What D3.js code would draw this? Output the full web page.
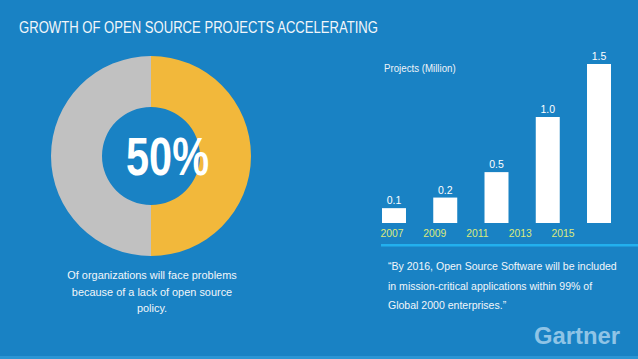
<!DOCTYPE html>
<html>
<head>
<meta charset="utf-8">
<script src="https://cdn.jsdelivr.net/npm/d3@7"></script>
<style>
  html, body { margin: 0; padding: 0; background: #1982c4; }
  svg { display: block; }
  text { font-family: "Liberation Sans Narrow", "Arial Narrow", "Liberation Sans", sans-serif; }
</style>
</head>
<body>
<div id="chart"></div>
<script>
const width = 638, height = 359;

// data
const title = "GROWTH OF OPEN SOURCE PROJECTS ACCELERATING";
const shareLabels = ["Will face problems", "Others"];
const shareValues = [50, 50];
const shareText = "50%";
const captionLines = ["Of organizations will face problems", "because of a lack of open source", "policy."];
const years = ["2007", "2009", "2011", "2013", "2015"];
const barLabels = ["0.1", "0.2", "0.5", "1.0", "1.5"];
const barValues = [0.14, 0.24, 0.48, 1.0, 1.5];
const quoteLines = ["\u201CBy 2016, Open Source Software will be included",
                    "in mission-critical applications within 99% of",
                    "Global 2000 enterprises.\u201D"];

const svg = d3.select("#chart").append("svg")
    .attr("width", width)
    .attr("height", height);

// squeeze text horizontally, the font here is wider than the original narrow one
function condense(sel, k) {
    sel.each(function() {
        const w = this.getComputedTextLength();
        d3.select(this).attr("textLength", w * k).attr("lengthAdjust", "spacingAndGlyphs");
    });
}

svg.append("rect")
    .attr("width", width).attr("height", height)
    .attr("fill", "#1982c4");
// thin lighter strip at the bottom edge
svg.append("rect")
    .attr("y", 356).attr("width", width).attr("height", 3)
    .attr("fill", "#2b95d4");

svg.append("text")
    .attr("x", 19).attr("y", 33)
    .attr("fill", "#f2f6fa")
    .attr("font-size", 17)
    .attr("textLength", 359)
    .attr("lengthAdjust", "spacingAndGlyphs")
    .text(title);

// donut
const pie = d3.pie().sort(null).value(d => d);
const arc = d3.arc().innerRadius(49).outerRadius(100);
const shareColor = d3.scaleOrdinal().domain(d3.range(shareValues.length)).range(["#f2b83b", "#c1c1c1"]);

const donut = svg.append("g").attr("transform", "translate(151,156)");
donut.selectAll("path")
    .data(pie(shareValues))
    .enter().append("path")
    .attr("d", arc)
    .attr("fill", (d, i) => shareColor(i));

svg.append("text")
    .attr("x", 167.5).attr("y", 175)
    .attr("text-anchor", "middle")
    .attr("fill", "#ffffff")
    .attr("font-size", 53)
    .attr("font-weight", "bold")
    .attr("textLength", 83)
    .attr("lengthAdjust", "spacingAndGlyphs")
    .text(shareText);

svg.append("g").selectAll("text")
    .data(captionLines)
    .enter().append("text")
    .attr("x", 152)
    .attr("y", (d, i) => 279 + i * 16.5)
    .attr("text-anchor", "middle")
    .attr("fill", "#f2f6fa")
    .attr("font-size", 11.5)
    .text(d => d)
    .call(condense, 0.95);

// bar chart
const x = d3.scaleBand()
    .domain(barLabels)
    .range([382, 611])
    .paddingInner(0.532)
    .paddingOuter(0);

const y = d3.scaleLinear()
    .domain([0, 1.5])
    .range([223, 64]);

const xYear = d3.scalePoint()
    .domain(years)
    .range([392, 563]);

svg.append("text")
    .attr("x", 384).attr("y", 72)
    .attr("fill", "#eef3f8")
    .attr("font-size", 10)
    .text("Projects (Million)")
    .call(condense, 0.97);

const bars = svg.append("g");
bars.selectAll("rect")
    .data(barValues)
    .enter().append("rect")
    .attr("x", (d, i) => x(barLabels[i]))
    .attr("y", d => y(d))
    .attr("width", x.bandwidth())
    .attr("height", d => y(0) - y(d))
    .attr("fill", "#ffffff");

bars.selectAll("text")
    .data(barValues)
    .enter().append("text")
    .attr("x", (d, i) => x(barLabels[i]) + x.bandwidth() / 2)
    .attr("y", d => y(d) - 4)
    .attr("text-anchor", "middle")
    .attr("fill", "#ffffff")
    .attr("font-size", 10.5)
    .text((d, i) => barLabels[i]);

svg.append("g").selectAll("text")
    .data(years)
    .enter().append("text")
    .attr("x", d => xYear(d))
    .attr("y", 237)
    .attr("text-anchor", "middle")
    .attr("fill", "#dcea7c")
    .attr("font-size", 11.5)
    .text(d => d)
    .call(condense, 0.9);

svg.append("rect")
    .attr("x", 381).attr("y", 244)
    .attr("width", width - 381).attr("height", 2.5)
    .attr("fill", "#22b0ee");

svg.append("g").selectAll("text")
    .data(quoteLines)
    .enter().append("text")
    .attr("x", 388)
    .attr("y", (d, i) => 270 + i * 19.5)
    .attr("fill", "#f2f6fa")
    .attr("font-size", 11.5)
    .text(d => d)
    .call(condense, 0.915);

svg.append("text")
    .attr("x", 534).attr("y", 344)
    .attr("fill", "#8fc4e6")
    .attr("font-family", "'Liberation Sans', Arial, sans-serif")
    .attr("font-size", 24)
    .attr("font-weight", "bold")
    .attr("textLength", 86)
    .attr("lengthAdjust", "spacingAndGlyphs")
    .text("Gartner");
</script>
</body>
</html>
